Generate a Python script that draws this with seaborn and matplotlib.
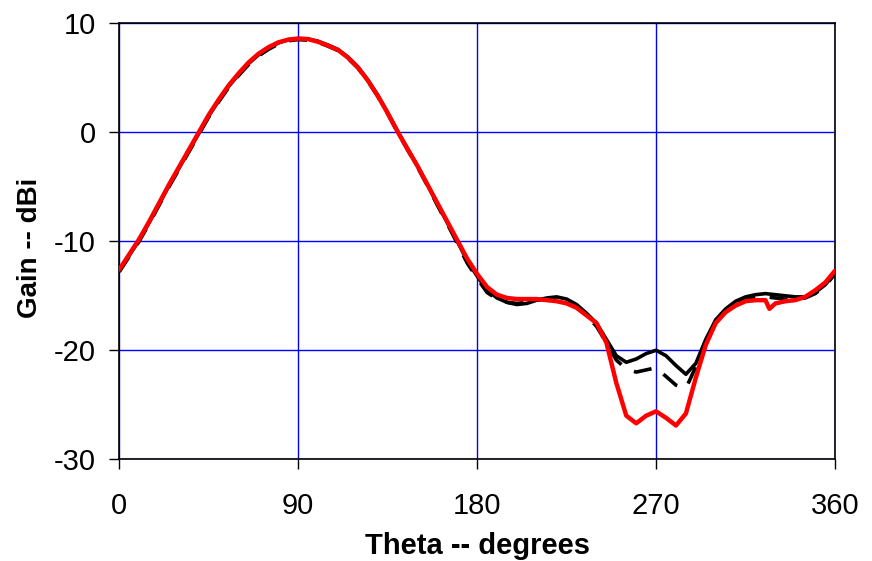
import numpy as np
import pandas as pd
import matplotlib
matplotlib.use("Agg")
import matplotlib.pyplot as plt
import seaborn as sns

# ---- data ----
theta = list(range(0, 365, 5))
gain_black = [-12.7, -11.3, -9.9, -8.3, -6.6, -4.9, -3.3, -1.7, -0.1, 1.5,
              2.9, 4.2, 5.3, 6.3, 7.1, 7.7, 8.2, 8.5, 8.6, 8.55,
              8.35, 8.0, 7.6, 6.9, 6.0, 4.8, 3.4, 1.8, 0.1, -1.5,
              -3.1, -4.8, -6.6, -8.3, -10.0, -11.8, -13.2, -14.5, -15.2, -15.6,
              -15.8, -15.7, -15.4, -15.2, -15.1, -15.3, -15.8, -16.6, -17.5, -19.0,
              -20.5, -21.1, -20.8, -20.3, -20.0, -20.5, -21.4, -22.2, -21.2, -19.0,
              -17.2, -16.2, -15.5, -15.1, -14.9, -14.8, -14.9, -15.0, -15.1, -15.1,
              -14.7, -14.0, -12.9]

gain_black_dash = [-12.8, -11.4, -10.0, -8.4, -6.7, -5.0, -3.4, -1.8, -0.2, 1.4,
                   2.8, 4.1, 5.2, 6.2, 7.0, 7.6, 8.1, 8.4, 8.5, 8.45,
                   8.25, 7.9, 7.5, 6.8, 5.9, 4.7, 3.3, 1.7, 0.0, -1.6,
                   -3.2, -4.9, -6.7, -8.4, -10.2, -12.0, -13.4, -14.7, -15.3, -15.6,
                   -15.7, -15.6, -15.4, -15.3, -15.2, -15.4, -15.9, -16.8, -17.8, -19.3,
                   -20.9, -21.7, -22.0, -21.8, -21.6, -22.4, -23.2, -23.5, -21.5, -19.3,
                   -17.4, -16.4, -15.7, -15.3, -15.1, -15.1, -15.2, -15.3, -15.3, -15.2,
                   -14.8, -14.1, -13.0]

theta_red = list(range(0, 330, 5)) + [327, 330, 335, 340, 345, 350, 355, 360]
gain_red = [-12.6, -11.2, -9.8, -8.2, -6.5, -4.8, -3.2, -1.6, 0.0, 1.6,
            3.0, 4.3, 5.4, 6.4, 7.2, 7.8, 8.25, 8.5, 8.6, 8.55,
            8.3, 7.95, 7.55, 6.85, 5.95, 4.75, 3.35, 1.75, 0.05, -1.55,
            -3.1, -4.8, -6.5, -8.2, -9.9, -11.6, -13.0, -14.2, -14.9, -15.2,
            -15.3, -15.3, -15.3, -15.4, -15.5, -15.7, -16.1, -16.8, -17.5, -19.3,
            -23.0, -26.0, -26.7, -26.0, -25.6, -26.2, -26.9, -25.8, -22.5, -19.5,
            -17.5, -16.5, -15.9, -15.5, -15.4, -15.4,
            -16.2, -15.7, -15.5, -15.4, -15.1, -14.5, -13.8, -12.7]

x_ticks = [0, 90, 180, 270, 360]
y_ticks = [-30, -20, -10, 0, 10]

# ---- plotting ----
sns.set_style("white")
plt.rcParams['font.family'] = ['Liberation Sans', 'DejaVu Sans']
plt.rcParams['text.color'] = 'black'
plt.rcParams['axes.labelcolor'] = 'black'
plt.rcParams['xtick.color'] = 'black'
plt.rcParams['ytick.color'] = 'black'

fig = plt.figure(figsize=(8.72, 5.61), dpi=100)
ax = fig.add_axes([0.1368, 0.1813, 0.9576 - 0.1368, 0.9585 - 0.1813])

df_b = pd.DataFrame({"theta": theta, "gain": gain_black})
df_bd = pd.DataFrame({"theta": theta, "gain": gain_black_dash})
df_r = pd.DataFrame({"theta": theta_red, "gain": gain_red})

sns.lineplot(data=df_bd, x="theta", y="gain", ax=ax, color="black",
             linewidth=2.6, linestyle=(0, (5, 4)), zorder=3, sort=False)
sns.lineplot(data=df_b, x="theta", y="gain", ax=ax, color="black",
             linewidth=2.6, zorder=4, sort=False)
sns.lineplot(data=df_r, x="theta", y="gain", ax=ax, color="#ff0000",
             linewidth=3.2, zorder=5, sort=False)

ax.set_xlim(0, 360)
ax.set_ylim(-30, 10)
ax.set_xticks(x_ticks)
ax.set_yticks(y_ticks)
ax.set_xticklabels([str(v) for v in x_ticks])
ax.set_yticklabels([str(v) for v in y_ticks])

ax.grid(True, color="#0000ff", linewidth=1.0)
ax.set_axisbelow(True)
for s in ax.spines.values():
    s.set_visible(True)
    s.set_color("black")
    s.set_linewidth(1.2)

ax.tick_params(axis="both", which="major", direction="out", length=7.2,
               width=1.0, color="black", labelsize=21, labelcolor="black",
               bottom=True, left=True, top=False, right=False)
ax.tick_params(axis="x", pad=16.5)
ax.tick_params(axis="y", pad=9.5)

ax.set_xlabel("Theta -- degrees", fontsize=21, fontweight="bold")
ax.set_ylabel("Gain -- dBi", fontsize=20, fontweight="bold")
ax.xaxis.set_label_coords(0.5, -0.167)
ax.yaxis.set_label_coords(-0.107, 0.485)

fig.savefig("out.png", dpi=100, facecolor="white")
